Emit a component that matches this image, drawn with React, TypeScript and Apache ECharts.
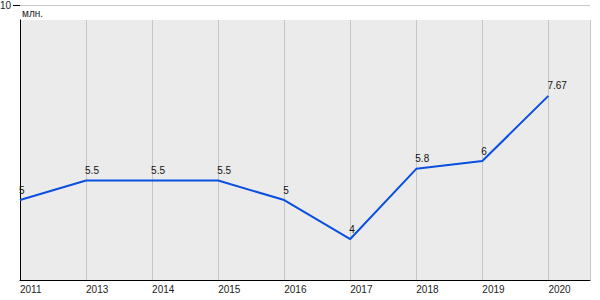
import React, { useEffect, useRef } from "react";
import * as echarts from "echarts";

const years = ["2011", "2013", "2014", "2015", "2016", "2017", "2018", "2019", "2020"];
const values = [5, 5.5, 5.5, 5.5, 5, 4, 5.8, 6, 7.67];
const yTopLabel = "10";
const unitLabel = "млн.";

export default function App() {
  const ref = useRef<HTMLDivElement>(null);
  useEffect(() => {
    if (!ref.current) return;
    const chart = echarts.init(ref.current, undefined, { renderer: "svg" });
    const font = "Arial, 'Liberation Sans', sans-serif";
    chart.setOption({
      animation: false,
      grid: { left: 20, right: 10, top: 20, bottom: 20 },
      xAxis: {
        type: "value",
        min: 0,
        max: 8.63,
        interval: 1,
        axisLine: { show: true, lineStyle: { color: "#000", width: 1 } },
        axisTick: { show: false },
        splitLine: { show: true, lineStyle: { color: "#c6c6c6", width: 1 } },
        axisLabel: {
          formatter: (v: number) => (Number.isInteger(v) && years[v] ? years[v] : ""),
          align: "left",
          margin: 4,
          fontSize: 10,
          color: "#222",
          fontFamily: font,
          showMaxLabel: false,
        },
      },
      yAxis: {
        type: "value",
        min: 2.95,
        max: 9.615,
        axisLine: { show: true, lineStyle: { color: "#000", width: 1 } },
        axisTick: { show: false },
        axisLabel: { show: false },
        splitLine: { show: false },
      },
      graphic: [
        { type: "rect", z: -10, shape: { x: 20, y: 20, width: 570, height: 260 }, style: { fill: "#ebebeb" } },
        { type: "line", shape: { x1: 20, y1: 5.5, x2: 590, y2: 5.5 }, style: { stroke: "#c6c6c6", lineWidth: 1 } },
        { type: "line", shape: { x1: 13, y1: 5.5, x2: 20, y2: 5.5 }, style: { stroke: "#000", lineWidth: 1 } },
        { type: "text", x: 11, y: 5, style: { text: yTopLabel, align: "right", verticalAlign: "middle", fill: "#222", font: `10px ${font}` } },
        { type: "text", x: 22, y: 13, style: { text: unitLabel, align: "left", verticalAlign: "middle", fill: "#222", font: `10px ${font}` } },
      ],
      series: [
        {
          type: "line",
          data: values.map((v, i) => [i, v]),
          symbol: "circle",
          symbolSize: 2,
          itemStyle: { color: "rgba(0,0,0,0)" },
          lineStyle: { color: "#0a4fe0", width: 2 },
          label: {
            show: true,
            position: [0, -14],
            align: "left",
            verticalAlign: "top",
            fontSize: 10,
            color: "#111",
            fontFamily: font,
            formatter: (p: any) => String(p.value[1]),
          },
        },
      ],
    });
    return () => chart.dispose();
  }, []);
  return <div ref={ref} style={{ width: 600, height: 300, position: "absolute", left: 0, top: 0 }} />;
}
